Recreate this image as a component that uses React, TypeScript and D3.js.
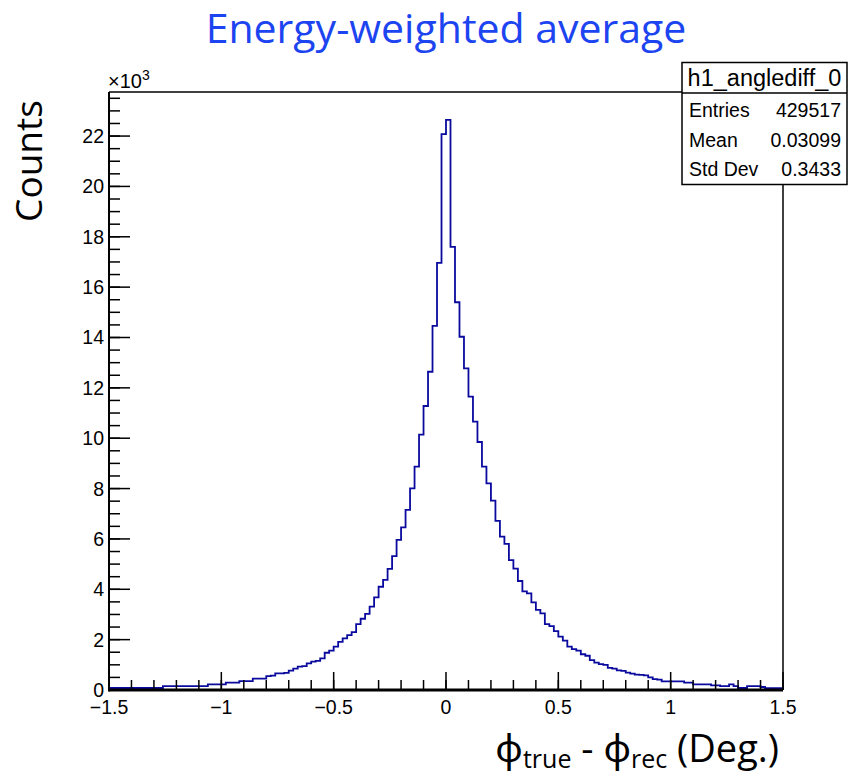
import React, { useRef, useEffect } from "react";
import * as d3 from "d3";

// bin contents (x10^3), 150 bins of 0.02 from -1.5 to 1.5
const binLow = -1.5;
const binWidth = 0.02;
const counts = [
  0.08, 0.08, 0.08, 0.08, 0.08, 0.08, 0.08, 0.08, 0.08, 0.08, 0.08, 0.08,
  0.15, 0.15, 0.15, 0.15, 0.15, 0.15, 0.15, 0.15, 0.15, 0.15,
  0.22, 0.22, 0.22, 0.22,
  0.29, 0.29, 0.29,
  0.35, 0.35, 0.35,
  0.45, 0.45, 0.45,
  0.55, 0.57, 0.66, 0.66, 0.68,
  0.77, 0.85, 0.93, 0.95, 1.06, 1.13, 1.16, 1.26,
  1.48, 1.56, 1.72, 1.91, 2.05, 2.18, 2.3,
  2.62, 2.83, 3.02, 3.31, 3.68,
  4.1, 4.37, 4.81, 5.32, 5.96, 6.46,
  7.15, 8.01, 8.87, 10.14, 11.28, 12.64, 14.46, 16.96,
  22.08, 22.64,
  17.6, 15.4, 14.03, 12.77, 11.65, 10.66, 9.85,
  8.87, 8.21, 7.52, 6.72, 6.09, 5.8, 5.16, 4.82,
  4.33, 3.92, 3.84, 3.48, 3.18, 3.04,
  2.62, 2.54, 2.34, 2.12, 1.96, 1.72,
  1.62, 1.56, 1.42, 1.36, 1.19, 1.09, 1.03, 1.0,
  0.88, 0.85, 0.78, 0.76, 0.69, 0.65,
  0.61, 0.6, 0.58, 0.5, 0.43, 0.41,
  0.34, 0.34, 0.34, 0.34, 0.34,
  0.29, 0.29,
  0.22, 0.22, 0.22, 0.22,
  0.18, 0.18, 0.15, 0.15, 0.22, 0.15, 0.08, 0.08,
  0.15, 0.15, 0.15, 0.12, 0.07, 0.07, 0.07, 0.07,
];

const xMajorTicks = [-1.5, -1, -0.5, 0, 0.5, 1, 1.5];
const xTickLabels = ["\u22121.5", "\u22121", "\u22120.5", "0", "0.5", "1", "1.5"];
const yMajorTicks = [0, 2, 4, 6, 8, 10, 12, 14, 16, 18, 20, 22];

const statsTitle = "h1_anglediff_0";
const statsRows = [
  ["Entries", "429517"],
  ["Mean", "0.03099"],
  ["Std Dev", "0.3433"],
];

const width = 848;
const height = 774;
const frame = { left: 109, right: 783, top: 92, bottom: 690 };

const App = () => {
  const svgRef = useRef(null);

  useEffect(() => {
    const svg = d3.select(svgRef.current);
    svg.selectAll("*").remove();

    const x = d3.scaleLinear().domain([-1.5, 1.5]).range([frame.left, frame.right]);
    const y = d3.scaleLinear().domain([0, 23.75]).range([frame.bottom, frame.top]);

    const tickFont = "'Liberation Sans', Arial, sans-serif";
    const titleFont = "'Open Sans', 'Noto Sans', sans-serif";

    // title
    svg
      .append("text")
      .attr("x", 446)
      .attr("y", 43)
      .attr("text-anchor", "middle")
      .style("font-family", titleFont)
      .style("font-size", "41px")
      .style("fill", "#1c44f0")
      .text("Energy-weighted average");

    // histogram
    const pts = counts.map((c, i) => [binLow + i * binWidth, c]);
    pts.push([binLow + counts.length * binWidth, counts[counts.length - 1]]);
    const line = d3
      .line()
      .x((d) => x(d[0]))
      .y((d) => y(d[1]))
      .curve(d3.curveStepAfter);

    svg
      .append("path")
      .attr("d", line(pts))
      .attr("fill", "none")
      .attr("stroke", "#0a0a9e")
      .attr("stroke-width", 1.8);

    // frame
    const g = svg.append("g").attr("stroke", "black").attr("fill", "none");
    g.append("line")
      .attr("x1", frame.left).attr("x2", frame.right)
      .attr("y1", frame.top).attr("y2", frame.top)
      .attr("stroke-width", 1.5);
    g.append("line")
      .attr("x1", frame.right).attr("x2", frame.right)
      .attr("y1", frame.top).attr("y2", frame.bottom)
      .attr("stroke-width", 1.5);
    g.append("line")
      .attr("x1", frame.left).attr("x2", frame.left)
      .attr("y1", frame.top).attr("y2", frame.bottom + 1.5)
      .attr("stroke-width", 2);
    g.append("line")
      .attr("x1", frame.left).attr("x2", frame.right)
      .attr("y1", frame.bottom).attr("y2", frame.bottom)
      .attr("stroke-width", 3);

    // x ticks
    const xMinor = d3.range(-15, 16).map((d) => d / 10);
    g.selectAll(".xminor")
      .data(xMinor)
      .enter()
      .append("line")
      .attr("x1", (d) => x(d)).attr("x2", (d) => x(d))
      .attr("y1", frame.bottom).attr("y2", frame.bottom - 10)
      .attr("stroke-width", 1.5);
    g.selectAll(".xmajor")
      .data(xMajorTicks)
      .enter()
      .append("line")
      .attr("x1", (d) => x(d)).attr("x2", (d) => x(d))
      .attr("y1", frame.bottom).attr("y2", frame.bottom - 18)
      .attr("stroke-width", 1.5);

    // y ticks
    const yMinor = d3.range(0, 48).map((d) => d / 2);
    g.selectAll(".yminor")
      .data(yMinor)
      .enter()
      .append("line")
      .attr("x1", frame.left).attr("x2", frame.left + 11)
      .attr("y1", (d) => y(d)).attr("y2", (d) => y(d))
      .attr("stroke-width", 1.5);
    g.selectAll(".ymajor")
      .data(yMajorTicks)
      .enter()
      .append("line")
      .attr("x1", frame.left).attr("x2", frame.left + 21)
      .attr("y1", (d) => y(d)).attr("y2", (d) => y(d))
      .attr("stroke-width", 1.5);

    // tick labels
    svg.selectAll(".xlab")
      .data(xMajorTicks)
      .enter()
      .append("text")
      .attr("x", (d) => x(d))
      .attr("y", 714)
      .attr("text-anchor", "middle")
      .style("font-family", tickFont)
      .style("font-size", "19.5px")
      .text((d, i) => xTickLabels[i]);

    svg.selectAll(".ylab")
      .data(yMajorTicks)
      .enter()
      .append("text")
      .attr("x", 104)
      .attr("y", (d) => y(d) + 7)
      .attr("text-anchor", "end")
      .style("font-family", tickFont)
      .style("font-size", "19.5px")
      .text((d) => d);

    const exp = svg
      .append("text")
      .attr("x", 108)
      .attr("y", 88)
      .style("font-family", tickFont)
      .style("font-size", "20px");
    exp.append("tspan").text("\u00d710");
    exp.append("tspan").attr("dy", -8).style("font-size", "14px").text("3");

    // axis titles
    svg
      .append("text")
      .attr("transform", "translate(42,161) rotate(-90)")
      .attr("text-anchor", "middle")
      .style("font-family", titleFont)
      .style("font-size", "37px")
      .text("Counts");

    const xt = svg
      .append("text")
      .attr("x", 779)
      .attr("y", 762)
      .attr("text-anchor", "end")
      .style("font-family", titleFont)
      .style("font-size", "38px");
    xt.append("tspan").text("\u03d5");
    xt.append("tspan").attr("dy", 6).style("font-size", "25px").text("true");
    xt.append("tspan").attr("dy", -6).text(" - \u03d5");
    xt.append("tspan").attr("dy", 6).style("font-size", "25px").text("rec");
    xt.append("tspan").attr("dy", -6).text(" (Deg.)");

    // stats box
    const box = { x: 682, y: 62.5, w: 165, h: 122 };
    svg
      .append("rect")
      .attr("x", box.x).attr("y", box.y)
      .attr("width", box.w).attr("height", box.h)
      .attr("fill", "white")
      .attr("stroke", "black")
      .attr("stroke-width", 1.5);
    svg
      .append("line")
      .attr("x1", box.x).attr("x2", box.x + box.w)
      .attr("y1", 93).attr("y2", 93)
      .attr("stroke", "black")
      .attr("stroke-width", 1.5);
    svg
      .append("text")
      .attr("x", box.x + box.w / 2)
      .attr("y", 86)
      .attr("text-anchor", "middle")
      .style("font-family", tickFont)
      .style("font-size", "23.5px")
      .text(statsTitle);

    statsRows.forEach((r, i) => {
      const by = 117 + i * 29.5;
      svg.append("text")
        .attr("x", 689).attr("y", by)
        .style("font-family", tickFont)
        .style("font-size", "19.5px")
        .text(r[0]);
      svg.append("text")
        .attr("x", 841).attr("y", by)
        .attr("text-anchor", "end")
        .style("font-family", tickFont)
        .style("font-size", "19.5px")
        .text(r[1]);
    });
  }, []);

  return (
    <svg
      ref={svgRef}
      width={width}
      height={height}
      style={{ position: "absolute", left: 0, top: 0, background: "white" }}
    ></svg>
  );
};

export default App;
